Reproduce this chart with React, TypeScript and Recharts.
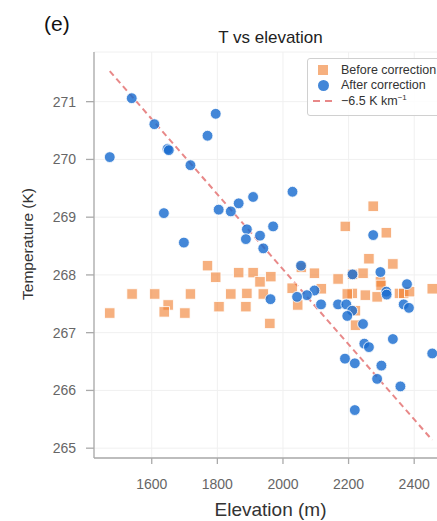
import { ScatterChart, Scatter, XAxis, YAxis, CartesianGrid, ReferenceLine, Legend } from 'recharts';

// station elevation (m) and temperature (K)
const afterElev = [
  1472, 1539, 1608, 1648, 1652, 1718, 1770, 1795, 1637, 1698, 1804, 1841, 1865, 1909, 1890, 1887, 1930,
  1940, 1970, 2029, 2275, 2055, 2212, 2297, 2378, 2315, 2316, 2096, 2073, 2043, 1962, 2116, 2168, 2193,
  2211, 2196, 2244, 2368, 2384, 2335, 2248, 2262, 2455, 2189, 2219, 2300, 2287, 2358, 2219,
];
const afterTemp = [
  270.04, 271.06, 270.61, 270.18, 270.16, 269.9, 270.41, 270.79, 269.07, 268.56, 269.13, 269.1, 269.24,
  269.35, 268.79, 268.62, 268.68, 268.46, 268.84, 269.44, 268.69, 268.16, 268.01, 268.05, 267.84, 267.71,
  267.66, 267.73, 267.65, 267.62, 267.58, 267.49, 267.49, 267.49, 267.38, 267.29, 267.15, 267.49, 267.43,
  266.89, 266.81, 266.75, 266.64, 266.55, 266.47, 266.43, 266.2, 266.07, 265.66,
];
const beforeElev = [
  1472, 1540, 1609, 1650, 1638, 1701, 1718, 1770, 1795, 1805, 1841, 1865, 1909, 1930, 1890, 1887, 1940,
  1963, 1960, 2275, 2190, 2315, 2262, 2335, 2056, 2096, 2168, 2244, 2212, 2297, 2028, 2117, 2455, 2211,
  2196, 2251, 2287, 2355, 2368, 2386, 2299, 2045, 2221, 2221,
];
const beforeTemp = [
  267.34, 267.67, 267.67, 267.48, 267.36, 267.34, 267.67, 268.16, 267.96, 267.45, 267.67, 268.04, 268.04,
  267.88, 267.68, 267.45, 267.67, 267.97, 267.16, 269.19, 268.84, 268.73, 268.28, 268.19, 268.13, 268.03,
  267.93, 268.03, 268.01, 267.88, 267.77, 267.76, 267.76, 267.68, 267.67, 267.65, 267.62, 267.68, 267.68,
  267.71, 267.82, 267.48, 267.38, 267.13,
];
const lapseElev = [1472, 2455];
const lapseTemp = [271.53, 265.14];
const elevTicks = [1600, 1800, 2000, 2200, 2400];
const tempTicks = [265, 266, 267, 268, 269, 270, 271];

const ORANGE = '#f08030';
const BLUE = '#1a6dd0';
const RED = '#e26a6a';
const FONT = '"Liberation Sans", Arial, Helvetica, sans-serif';

// the figure is cropped at the window edge, so drop the page margin and scrollbars
document.body.style.margin = '0';
document.documentElement.style.overflow = 'hidden';

const before = beforeElev.map((e, i) => ({ elev: e, temp: beforeTemp[i] }));
const after = afterElev.map((e, i) => ({ elev: e, temp: afterTemp[i] }));
const lapse = lapseElev.map((e, i) => ({ x: e, y: lapseTemp[i] }));

const Square = (p: any) => (
  <rect x={p.cx - 5.2} y={p.cy - 5.2} width={10.4} height={10.4} fill={ORANGE} fillOpacity={0.62} stroke="#fff" strokeWidth={0.8} />
);
const Dot = (p: any) => (
  <circle cx={p.cx} cy={p.cy} r={5.4} fill={BLUE} fillOpacity={0.82} stroke="#fff" strokeWidth={0.8} />
);

function LegendBox() {
  const row = { display: 'flex', alignItems: 'center', height: 15.5 } as const;
  const mark = { width: 20, display: 'flex', justifyContent: 'center', marginRight: 8 } as const;
  return (
    <div
      style={{
        border: '1px solid #d0d0d0',
        borderRadius: 3,
        background: 'rgba(255,255,255,0.85)',
        padding: '3px 8px 6px 5px',
        fontFamily: FONT,
        fontSize: 12.5,
        color: '#333',
        whiteSpace: 'nowrap',
      }}
    >
      <div style={row}>
        <span style={mark}>
          <span style={{ width: 10, height: 10, background: ORANGE, opacity: 0.62 }} />
        </span>
        Before correction
      </div>
      <div style={row}>
        <span style={mark}>
          <span style={{ width: 11, height: 11, borderRadius: '50%', background: BLUE, opacity: 0.82 }} />
        </span>
        After correction
      </div>
      <div style={row}>
        <span style={mark}>
          <svg width={20} height={4}>
            <line x1={0} y1={2} x2={20} y2={2} stroke={RED} strokeOpacity={0.8} strokeWidth={2} strokeDasharray="7 5" />
          </svg>
        </span>
        <span>
          −6.5 K km<sup style={{ fontSize: 8, verticalAlign: 'super', lineHeight: 0 }}>−1</sup>
        </span>
      </div>
    </div>
  );
}

export default function App() {
  return (
    <div
      style={{
        position: 'relative',
        width: 437,
        height: 521,
        overflow: 'hidden',
        background: '#fff',
        fontFamily: FONT,
      }}
    >
      <ScatterChart
        width={452}
        height={521}
        margin={{ top: 52, right: 5, bottom: 3, left: 0 }}
        style={{ position: 'absolute', left: 0, top: 0 }}
      >
        <CartesianGrid stroke="#f0f0f0" strokeWidth={1} />
        <XAxis
          type="number"
          dataKey="elev"
          domain={[1424, 2500]}
          ticks={elevTicks}
          allowDataOverflow
          height={60}
          stroke="#aaa"
          strokeWidth={1.3}
          tickSize={6}
          tickMargin={15}
          tick={{ fill: '#666', fontSize: 14, fontFamily: FONT }}
          label={{ value: 'Elevation (m)', position: 'insideBottom', offset: 2, fill: '#333', fontSize: 19, fontFamily: FONT }}
        />
        <YAxis
          type="number"
          dataKey="temp"
          domain={[264.83, 271.86]}
          ticks={tempTicks}
          allowDataOverflow
          width={94}
          stroke="#aaa"
          strokeWidth={1.3}
          tickSize={8}
          tickMargin={10}
          tick={{ fill: '#666', fontSize: 14, fontFamily: FONT }}
          label={({ viewBox }: any) => {
            const cx = 27;
            const cy = viewBox.y + viewBox.height / 2 - 11;
            return (
              <text
                x={cx}
                y={cy}
                transform={`rotate(-90 ${cx} ${cy})`}
                textAnchor="middle"
                dominantBaseline="central"
                fill="#333"
                fontSize={15.5}
                fontFamily={FONT}
              >
                Temperature (K)
              </text>
            );
          }}
        />
        <Legend
          layout="horizontal"
          verticalAlign="middle"
          align="center"
          wrapperStyle={{ position: 'absolute', top: 58, left: 307, width: 150, height: 'auto' }}
          content={() => <LegendBox />}
        />
        <Scatter name="Before correction" data={before} shape={Square} isAnimationActive={false} />
        <Scatter name="After correction" data={after} shape={Dot} isAnimationActive={false} />
        <ReferenceLine
          segment={lapse}
          stroke={RED}
          strokeOpacity={0.8}
          strokeWidth={2}
          strokeDasharray="6 4"
        />
      </ScatterChart>
      <div
        style={{
          position: 'absolute',
          left: 94,
          width: 353,
          top: 29,
          fontSize: 17,
          lineHeight: '17px',
          textAlign: 'center',
          color: '#222',
        }}
      >
        T vs elevation
      </div>
      <div style={{ position: 'absolute', left: 44, top: 13, fontSize: 21, lineHeight: '21px', color: '#111' }}>(e)</div>
    </div>
  );
}
